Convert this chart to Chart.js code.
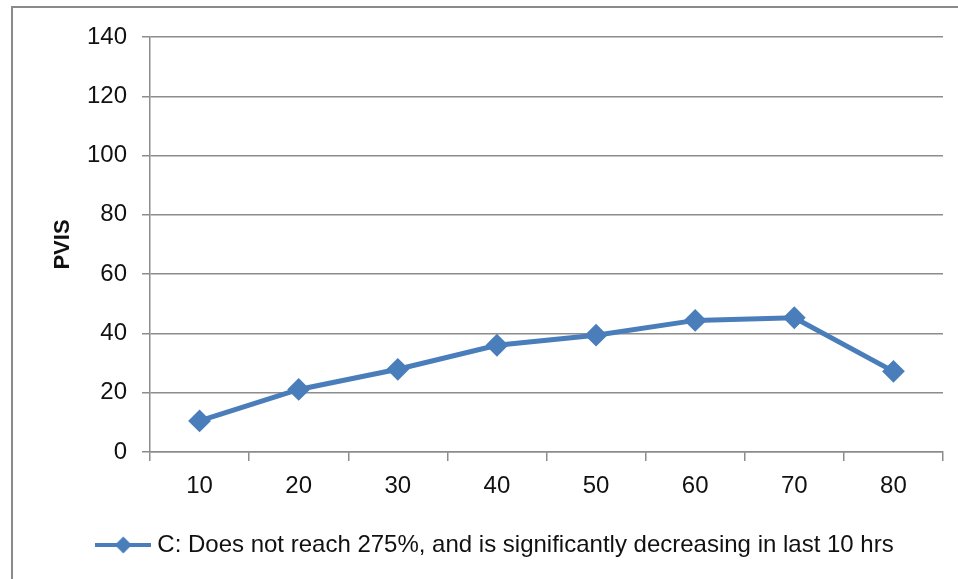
<!DOCTYPE html>
<html>
<head>
<meta charset="utf-8">
<script src="https://cdn.jsdelivr.net/npm/chart.js@4.4.1/dist/chart.umd.min.js"></script>
<style>
  html, body { margin: 0; padding: 0; background: #fff; }
  body { width: 958px; height: 579px; position: relative; overflow: hidden; }
  #frame {
    position: absolute; left: 11px; top: 6px; width: 960px; height: 600px;
    border-left: 2px solid #8a8a8a; border-top: 2px solid #8a8a8a;
    pointer-events: none;
  }
  #wrap { position: absolute; left: 0; top: 0; width: 958px; height: 579px; }
</style>
</head>
<body>
<div id="wrap"><canvas id="chart" width="958" height="579"></canvas></div>
<div id="frame"></div>
<script>
(function () {
  'use strict';

  var HOURS = ['10', '20', '30', '40', '50', '60', '70', '80'];
  var PVIS = [10.5, 21.1, 27.9, 36.0, 39.4, 44.4, 45.3, 27.2];
  var SERIES_LABEL = 'C: Does not reach 275%, and is significantly decreasing in last 10 hrs';
  var Y_TITLE = 'PVIS';

  var BLUE = '#4a7ebb';
  var GRID = '#8c8c8c';
  var TEXT = '#111111';
  var FONT = "'Liberation Sans', Arial, sans-serif";

  // legend symbol: short line with a diamond in the middle
  var icon = document.createElement('canvas');
  icon.width = 56;
  icon.height = 20;
  var ic = icon.getContext('2d');
  ic.strokeStyle = BLUE;
  ic.fillStyle = BLUE;
  ic.lineWidth = 4;
  ic.beginPath();
  ic.moveTo(0, 10);
  ic.lineTo(56, 10);
  ic.stroke();
  ic.beginPath();
  ic.moveTo(28 - 8.5, 10);
  ic.lineTo(28, 10 - 8.5);
  ic.lineTo(28 + 8.5, 10);
  ic.lineTo(28, 10 + 8.5);
  ic.closePath();
  ic.fill();

  new Chart(document.getElementById('chart'), {
    type: 'line',
    data: {
      labels: HOURS,
      datasets: [{
        label: SERIES_LABEL,
        data: PVIS,
        borderColor: BLUE,
        backgroundColor: BLUE,
        borderWidth: 5,
        pointStyle: 'rectRot',
        pointRadius: 10,
        pointBorderWidth: 2,
        pointBackgroundColor: BLUE,
        pointBorderColor: BLUE,
        tension: 0,
      }],
    },
    options: {
      responsive: false,
      animation: false,
      layout: { padding: { left: 52, right: 15, top: 37, bottom: 12 } },
      plugins: {
        tooltip: { enabled: false },
        legend: {
          position: 'bottom',
          labels: {
            usePointStyle: true,
            pointStyle: icon,
            pointStyleWidth: 44,
            color: TEXT,
            padding: 10,
            font: { family: FONT, size: 24 },
          },
        },
      },
      scales: {
        x: {
          offset: true,
          grid: {
            offset: true,
            drawOnChartArea: false,
            drawTicks: true,
            tickLength: 9,
            color: GRID,
            lineWidth: 1.5,
          },
          border: { color: GRID, width: 1.5 },
          ticks: { color: TEXT, padding: 11, font: { family: FONT, size: 24 }, maxRotation: 0 },
          afterFit: function (axis) { axis.height = 71; },
        },
        y: {
          min: 0,
          max: 140,
          ticks: { stepSize: 20, color: TEXT, padding: 15, font: { family: FONT, size: 24 } },
          grid: { color: GRID, lineWidth: 1.5, tickLength: 8 },
          border: { color: GRID, width: 1.5 },
          title: {
            display: true,
            text: Y_TITLE,
            color: TEXT,
            padding: 0,
            font: { family: FONT, size: 22, weight: 'bold', lineHeight: 1 },
          },
          afterFit: function (axis) { axis.width = 98; },
        },
      },
    },
  });
})();
</script>
</body>
</html>
